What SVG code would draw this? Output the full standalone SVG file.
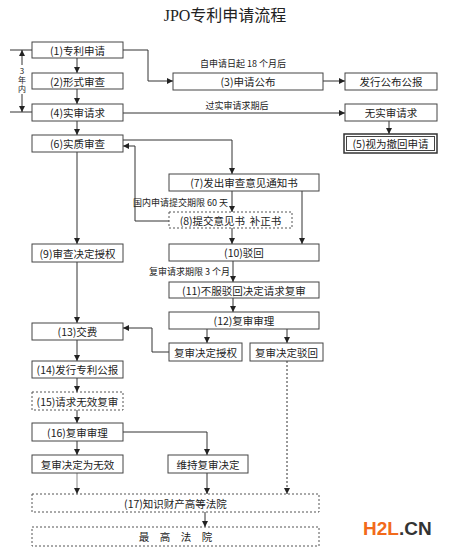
<svg xmlns="http://www.w3.org/2000/svg" width="449" height="552" viewBox="0 0 449 552">
<style>
.b{fill:#fff;stroke:#444;stroke-width:1}
.d{fill:#fff;stroke:#555;stroke-width:1;stroke-dasharray:2,2}
.t{font-family:"Noto Sans CJK SC","Liberation Sans",sans-serif;font-size:10.5px;fill:#222;text-anchor:middle;dominant-baseline:central}
.s{font-family:"Noto Sans CJK SC","Liberation Sans",sans-serif;font-size:9px;fill:#222}
.c{fill:none;stroke:#333;stroke-width:1}
</style>
<defs>
<marker id="a" markerUnits="userSpaceOnUse" markerWidth="7" markerHeight="6" refX="6" refY="3" orient="auto"><path d="M0,0 L6,3 L0,6 Z" fill="#222"/></marker>
</defs>
<rect width="449" height="552" fill="#fff"/>
<text x="225" y="21" style="font-family:'Liberation Serif','Noto Sans CJK SC',serif;font-size:16px;fill:#222" text-anchor="middle">JPO专利申请流程</text>

<g id="connectors">
<path class="c" d="M77,58 V73" marker-end="url(#a)"/>
<path class="c" d="M77,89 V104" marker-end="url(#a)"/>
<path class="c" d="M77,121 V135" marker-end="url(#a)"/>
<path class="c" d="M77,152 V244" marker-end="url(#a)"/>
<path class="c" d="M77,262 V323" marker-end="url(#a)"/>
<path class="c" d="M77,340 V361" marker-end="url(#a)"/>
<path class="c" d="M77,378 V392" marker-end="url(#a)"/>
<path class="c" d="M77,410 V423" marker-end="url(#a)"/>
<path class="c" d="M77,441 V455" marker-end="url(#a)"/>
<path class="c" d="M77,473 V494" style="stroke:#888" marker-end="url(#a)"/>
<path class="c" d="M123,50 H148 V81 H173" marker-end="url(#a)"/>
<path class="c" d="M323,81 H345" marker-end="url(#a)"/>
<path class="c" d="M123,113 H345" marker-end="url(#a)"/>
<path class="c" d="M389,121 V134" marker-end="url(#a)"/>
<path class="c" d="M123,140 H232 V174" marker-end="url(#a)"/>
<path class="c" d="M232,191 V212" marker-end="url(#a)"/>
<path class="c" d="M169,221 H135 V146 H123" marker-end="url(#a)"/>
<path class="c" d="M232,228 V244" marker-end="url(#a)"/>
<path class="c" d="M302,191 V244" marker-end="url(#a)"/>
<path class="c" d="M233,261 V282" marker-end="url(#a)"/>
<path class="c" d="M233,298 V312" marker-end="url(#a)"/>
<path class="c" d="M207,329 V343" marker-end="url(#a)"/>
<path class="c" d="M287,329 V343" marker-end="url(#a)"/>
<path class="c" d="M169,352 H152 V328 H123" marker-end="url(#a)"/>
<path class="c" d="M287,361 V494" style="stroke-dasharray:2,2" marker-end="url(#a)"/>
<path class="c" d="M123,432 H207 V455" marker-end="url(#a)"/>
<path class="c" d="M207,473 V494" marker-end="url(#a)"/>
<path class="c" d="M205,512 V527" marker-end="url(#a)"/>
<path class="c" d="M10,50 H32 M10,112 H32"/>
<path class="c" d="M22,65 V50" marker-end="url(#a)"/>
<path class="c" d="M22,94 V112" marker-end="url(#a)"/>
<text x="22" y="80" text-anchor="middle" style="font-family:'Noto Sans CJK SC',sans-serif;font-size:8px;fill:#222;writing-mode:vertical-rl;text-orientation:upright;letter-spacing:1px">3年内</text>
<text class="s" x="243" y="67" text-anchor="middle">自申请日起 18 个月后</text>
<text class="s" x="237" y="109" text-anchor="middle">过实审请求期后</text>
<text class="s" x="228" y="206" text-anchor="end">国内申请提交期限 60 天</text>
<text class="s" x="230" y="275" text-anchor="end">复审请求期限 3 个月</text>
</g>

<g id="n1"><rect class="b" x="32" y="42" width="91" height="16"/><text class="t" x="77.5" y="50">(1)专利申请</text></g>
<g id="n2"><rect class="b" x="32" y="73" width="91" height="16"/><text class="t" x="77.5" y="81">(2)形式审查</text></g>
<g id="n3"><rect class="b" x="173" y="73" width="150" height="17"/><text class="t" x="248" y="81.5">(3)申请公布</text></g>
<g id="n3b"><rect class="b" x="345" y="73" width="92" height="17"/><text class="t" x="391" y="81.5">发行公布公报</text></g>
<g id="n4"><rect class="b" x="32" y="104" width="91" height="17"/><text class="t" x="77.5" y="112.5">(4)实审请求</text></g>
<g id="n4b"><rect class="b" x="345" y="104" width="92" height="17"/><text class="t" x="391" y="112.5">无实审请求</text></g>
<g id="n5"><rect class="b" x="344" y="134" width="93" height="19" style="stroke:#333;stroke-width:1.5"/><rect x="346.5" y="136.5" width="88" height="14" fill="none" stroke="#444"/><text class="t" x="390.5" y="143.5">(5)视为撤回申请</text></g>
<g id="n6"><rect class="b" x="32" y="135" width="91" height="17"/><text class="t" x="77.5" y="143.5">(6)实质审查</text></g>
<g id="n7"><rect class="b" x="169" y="174" width="150" height="17"/><text class="t" x="244" y="182.5">(7)发出审查意见通知书</text></g>
<g id="n8"><rect class="d" x="169" y="212" width="123" height="16"/><text class="t" x="230.5" y="220" xml:space="preserve">(8)提交意见书  补正书</text></g>
<g id="n9"><rect class="b" x="32" y="244" width="91" height="18"/><text class="t" x="77.5" y="253">(9)审查决定授权</text></g>
<g id="n10"><rect class="b" x="169" y="244" width="150" height="17"/><text class="t" x="244" y="252.5">(10)驳回</text></g>
<g id="n11"><rect class="b" x="169" y="282" width="150" height="16"/><text class="t" x="244" y="290">(11)不服驳回决定请求复审</text></g>
<g id="n12"><rect class="b" x="169" y="312" width="150" height="17"/><text class="t" x="244" y="320.5">(12)复审审理</text></g>
<g id="n12a"><rect class="b" x="169" y="343" width="73" height="18"/><text class="t" x="205.5" y="352">复审决定授权</text></g>
<g id="n12b"><rect class="b" x="250" y="343" width="73" height="18"/><text class="t" x="286.5" y="352">复审决定驳回</text></g>
<g id="n13"><rect class="b" x="32" y="323" width="91" height="17"/><text class="t" x="77.5" y="331.5">(13)交费</text></g>
<g id="n14"><rect class="b" x="32" y="361" width="91" height="17"/><text class="t" x="77.5" y="369.5">(14)发行专利公报</text></g>
<g id="n15"><rect class="d" x="32" y="392" width="91" height="18"/><text class="t" x="77.5" y="401">(15)请求无效复审</text></g>
<g id="n16"><rect class="b" x="32" y="423" width="91" height="18"/><text class="t" x="77.5" y="432">(16)复审审理</text></g>
<g id="n16a"><rect class="b" x="32" y="455" width="91" height="18"/><text class="t" x="77.5" y="464">复审决定为无效</text></g>
<g id="n16b"><rect class="b" x="168" y="455" width="80" height="18"/><text class="t" x="208" y="464">维持复审决定</text></g>
<g id="n17"><rect class="d" x="32" y="494" width="287" height="18"/><text class="t" x="175.5" y="503">(17)知识财产高等法院</text></g>
<g id="n18"><rect class="d" x="32" y="527" width="287" height="19"/><text class="t" x="175.5" y="536.5">最　高　法　院</text></g>

<text x="363" y="535" style="font-family:'Liberation Sans',sans-serif;font-weight:bold;font-size:19px"><tspan fill="#f26a1b">H2L</tspan><tspan fill="#333">.CN</tspan></text>
</svg>
